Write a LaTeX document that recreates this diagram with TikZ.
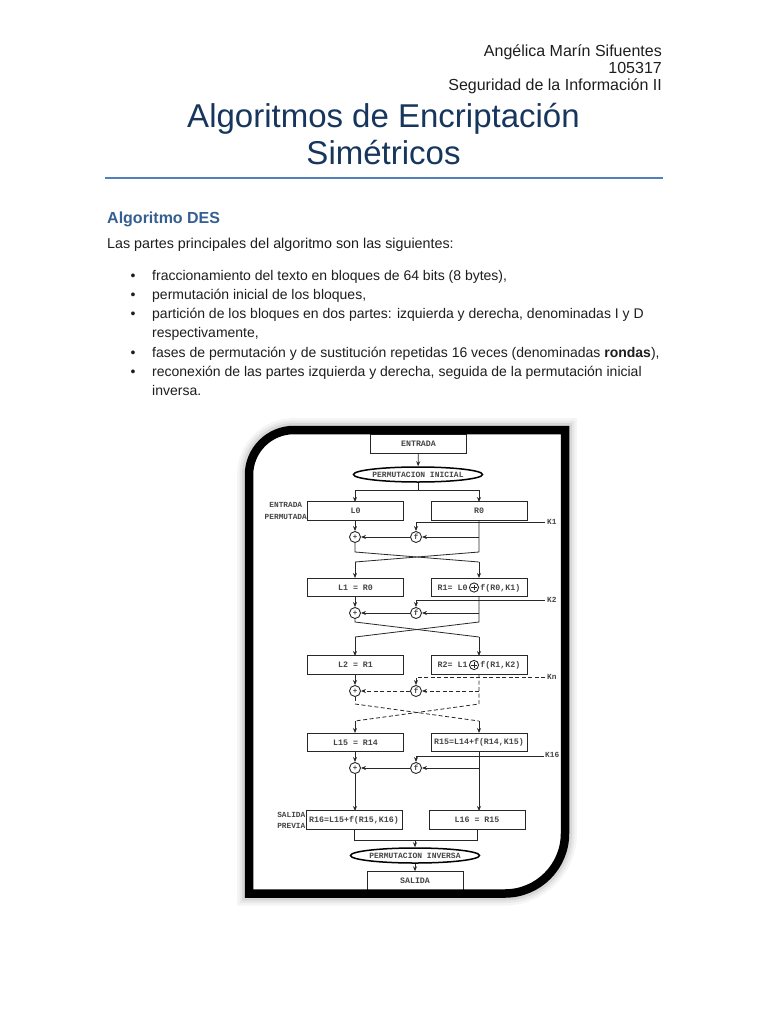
\documentclass[tikz,border=0pt]{standalone}
\usepackage{fontspec}
\setmainfont{Liberation Sans}
\newfontfamily\dmono{Liberation Mono}
\usetikzlibrary{arrows.meta,shapes.geometric}
\definecolor{navy}{RGB}{23,54,93}
\definecolor{headblue}{RGB}{54,95,145}
\definecolor{rulecol}{RGB}{79,129,189}
\definecolor{txt}{RGB}{30,30,30}
\definecolor{dg}{RGB}{40,40,40}
\definecolor{mt}{RGB}{70,70,70}
\newcommand{\cplus}{\tikz[baseline=-2.8pt,x=1pt,y=1pt]{\draw[line width=0.9pt,draw=dg] (0,0) circle (4.6pt); \draw[line width=0.8pt,draw=dg] (-2.6,0)--(2.6,0) (0,-2.6)--(0,2.6);}}
\begin{document}
\begin{tikzpicture}[x=1pt,y=-1pt,
  hdr/.style={inner sep=0pt, anchor=base east, font=\fontsize{16}{17}\selectfont, text=txt},
  ttl/.style={inner sep=0pt, anchor=base, font=\fontsize{33}{37}\selectfont, text=navy},
  body/.style={inner sep=0pt, anchor=base west, font=\fontsize{14.3}{19}\selectfont, text=txt},
  bbody/.style={inner sep=0pt, anchor=base west, font=\fontsize{14}{19}\selectfont, text=txt},
  bul/.style={inner sep=0pt, anchor=base, font=\fontsize{14}{19}\selectfont, text=txt},
  box/.style={draw=dg, line width=0.9pt, fill=white, minimum width=96pt, minimum height=18.5pt, inner sep=0pt, font=\dmono\bfseries\fontsize{8.3}{9}\selectfont, text=mt},
  ell/.style={ellipse, draw=black, line width=1.5pt, fill=white, minimum width=91pt, minimum height=15pt, inner sep=0pt, font=\dmono\bfseries\fontsize{8}{8}\selectfont, text=mt},
  opc/.style={circle, draw=dg, line width=0.9pt, fill=white, minimum size=11pt, inner sep=0pt, font=\dmono\bfseries\fontsize{7.5}{7.5}\selectfont, text=mt},
  lbl/.style={inner sep=0pt, font=\dmono\bfseries\fontsize{7.8}{12.5}\selectfont, text=mt},
  ln/.style={draw=dg, line width=0.8pt},
  arr/.style={draw=dg, line width=0.8pt, -{Stealth[length=5pt,width=4pt]}},
  dsh/.style={dash pattern=on 4pt off 2.5pt}
]
\useasboundingbox (0,0) rectangle (768,1024);
\fill[white] (0,0) rectangle (768,1024);

% ---------- header ----------
\node[hdr] (h1) at (662,57) {Angélica Marín Sifuentes};
\node[hdr] (h2) at (662,74) {105317};
\node[hdr] (h3) at (662,91) {Seguridad de la Información II};
\node[ttl] (t1) at (383.5,128) {Algoritmos de Encriptación};
\node[ttl] (t2) at (383.5,165) {Simétricos};
\draw[rulecol, line width=1.8pt] (105,178) -- (663,178);

\node[inner sep=0pt, anchor=base west, font=\bfseries\fontsize{16}{19}\selectfont, text=headblue] (sec) at (107,224) {Algoritmo DES};
\node[body] (intro) at (107,248) {Las partes principales del algoritmo son las siguientes:};

\node[bul] (b1) at (133,280) {•};
\node[bbody] (l1) at (152,280) {fraccionamiento del texto en bloques de 64 bits (8 bytes),};
\node[bul] (b2) at (133,299) {•};
\node[bbody] (l2) at (152,299) {permutación inicial de los bloques,};
\node[bul] (b3) at (133,318) {•};
\node[bbody] (l3) at (152,318) {partición de los bloques en dos partes: izquierda y derecha, denominadas I y D};
\node[bbody] (l4) at (152,337) {respectivamente,};
\node[bul] (b4) at (133,357) {•};
\node[bbody] (l5) at (152,357) {fases de permutación y de sustitución repetidas 16 veces (denominadas \textbf{rondas}),};
\node[bul] (b5) at (133,376) {•};
\node[bbody] (l6) at (152,376) {reconexión de las partes izquierda y derecha, seguida de la permutación inicial};
\node[bbody] (l7) at (152,395) {inversa.};

% ---------- frame shadow + fill ----------
\def\framepath{(249,475) .. controls (249,450.1) and (269.15,430) .. (294,430) -- (565,430) -- (565,833.5) .. controls (565,866.6) and (538.1,893.5) .. (505,893.5) -- (249,893.5) -- cycle}
\draw[black, opacity=0.04, line width=24pt] \framepath;
\draw[black, opacity=0.05, line width=19pt] \framepath;
\draw[black, opacity=0.07, line width=14pt] \framepath;
\fill[white] \framepath;

% ---------- diagram ----------
\node[box] (entrada) at (418.5,444) {ENTRADA};
\node[ell] (pini) at (418,474.5) {PERMUTACION INICIAL};

\node[box] (L0) at (355.5,511) {L0};
\node[box] (R0) at (479,511) {R0};
\node[lbl, anchor=east, align=center] (ep) at (L0.west) {ENTRADA\\PERMUTADA};

\coordinate (s0) at (418,490);
\draw[arr] (entrada) -- (pini);
\draw[ln] (pini.south) -- (s0);
\draw[ln] (355,490) -- (479,490);
\draw[arr] (355,490) -- (355,502);
\draw[arr] (479,490) -- (479,502);

% round 1
\node[opc] (f1) at (416,537) {f};
\node[opc] (p1) at (355,537) {+};
\coordinate (k1e) at (545,522);
\node[lbl, anchor=west] (k1) at (547,522) {K1};
\draw[arr] (k1e) -- (416,522) -- (f1.north);
\draw[arr] (355,520) -- (p1.north);
\draw[arr] (479,537) -- (f1.east);
\draw[arr] (f1.west) -- (p1.east);
\draw[ln] (479,520) -- (479,552) -- (355,562);
\draw[ln] (p1.south) -- (355,552) -- (479,562);

\node[box] (L1) at (355.5,587.5) {L1 = R0};
\node[box] (R1) at (479,587.5) {R1= L0\,\cplus\,f(R0,K1)};
\draw[arr] (355,562) -- (355,578);
\draw[arr] (479,562) -- (479,578);

% round 2
\node[opc] (f2) at (416,613) {f};
\node[opc] (p2) at (355,613) {+};
\coordinate (k2e) at (545,600);
\node[lbl, anchor=west] (k2) at (547,600) {K2};
\draw[arr] (k2e) -- (416,600) -- (f2.north);
\draw[arr] (355,597) -- (p2.north);
\draw[arr] (479,613) -- (f2.east);
\draw[arr] (f2.west) -- (p2.east);
\draw[ln] (479,597) -- (479,622) -- (355,637);
\draw[ln] (p2.south) -- (355,622) -- (479,637);

\node[box] (L2) at (355.5,665) {L2 = R1};
\node[box] (R2) at (479,665) {R2= L1\,\cplus\,f(R1,K2)};
\draw[arr] (355,637) -- (355,656);
\draw[arr] (479,637) -- (479,656);

% round n (dashed)
\node[opc] (f3) at (416,691) {f};
\node[opc] (p3) at (355,691) {+};
\coordinate (kne) at (545,677);
\node[lbl, anchor=west] (kn) at (547,677) {Kn};
\draw[arr, dsh] (kne) -- (416,677) -- (f3.north);
\draw[arr] (355,674) -- (p3.north);
\draw[arr, dsh] (479,691) -- (f3.east);
\draw[arr, dsh] (f3.west) -- (p3.east);
\draw[ln, dsh] (479,674) -- (479,704) -- (355,721);
\draw[ln] (p3.south) -- (355,701);
\draw[ln, dsh] (355,704) -- (479,721);

\node[box] (L15) at (355.5,742.5) {L15 = R14};
\node[box] (R15) at (479,742.5) {R15=L14+f(R14,K15)};
\draw[arr] (355,721) -- (355,733);
\draw[arr] (479,721) -- (479,733);

% round 16
\node[opc] (f4) at (416,768) {f};
\node[opc] (p4) at (355,768) {+};
\coordinate (k16e) at (544,756);
\node[lbl, anchor=west] (k16) at (545,755) {K16};
\draw[arr] (k16e) -- (416,756) -- (f4.north);
\draw[arr] (355,752) -- (p4.north);
\draw[arr] (479,768) -- (f4.east);
\draw[arr] (f4.west) -- (p4.east);

\node[box] (R16) at (354,820) {R16=L15+f(R15,K16)};
\node[box] (L16) at (477,820) {L16 = R15};
\node[lbl, anchor=east, align=center, font=\dmono\bfseries\fontsize{7.8}{11}\selectfont] (sp) at (R16.west) {SALIDA\\PREVIA};
\draw[arr] (p4.south) -- (355,811);
\draw[arr] (479,752) -- (479,811);

\coordinate (mg) at (415,840);
\node[ell] (pinv) at (415,855.5) {PERMUTACION INVERSA};
\node[box] (salida) at (415,881) {SALIDA};
\draw[ln] (R16.south) -- (354,840) -- (477,840) -- (L16.south);
\draw[arr] (mg) -- (pinv.north);
\draw[arr] (pinv.south) -- (salida.north);

% ---------- frame ----------
\draw[black, line width=8.5pt] \framepath;
\end{tikzpicture}
\end{document}
